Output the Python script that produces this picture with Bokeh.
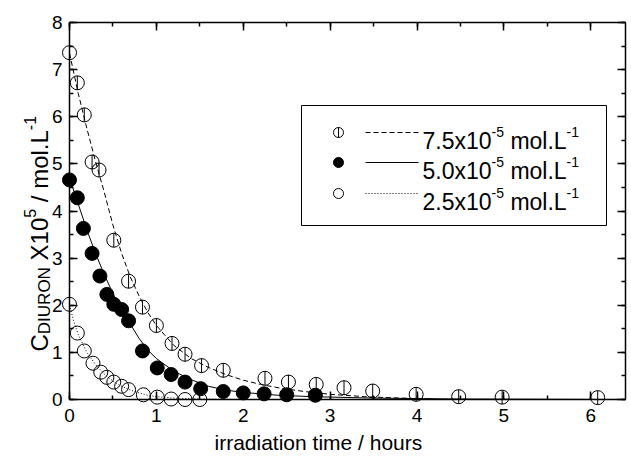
import math
from bokeh.plotting import figure
from bokeh.models import Range1d, LinearAxis, SingleIntervalTicker, Label
from bokeh.embed import file_html
from bokeh.resources import INLINE

# ---------------- data ----------------
t75 = [0.0, 0.09, 0.17, 0.26, 0.34, 0.51, 0.68, 0.84, 1.0, 1.18, 1.33, 1.52,
       1.77, 2.25, 2.52, 2.84, 3.16, 3.49, 3.99, 4.48, 4.98, 6.08]
c75 = [7.36, 6.72, 6.04, 5.04, 4.87, 3.38, 2.51, 1.96, 1.57, 1.19, 0.96, 0.72,
       0.62, 0.45, 0.37, 0.32, 0.25, 0.18, 0.11, 0.06, 0.05, 0.04]

t50 = [0.0, 0.09, 0.16, 0.26, 0.35, 0.43, 0.51, 0.60, 0.68, 0.84, 1.01, 1.17,
       1.33, 1.51, 1.77, 2.00, 2.24, 2.50, 2.83]
c50 = [4.66, 4.28, 3.63, 3.10, 2.62, 2.23, 2.02, 1.91, 1.67, 1.03, 0.67, 0.53,
       0.37, 0.23, 0.17, 0.14, 0.12, 0.10, 0.09]

t25 = [0.0, 0.09, 0.17, 0.27, 0.36, 0.43, 0.51, 0.60, 0.68, 0.85, 1.01, 1.17,
       1.33, 1.50]
c25 = [2.02, 1.41, 1.03, 0.77, 0.58, 0.47, 0.37, 0.28, 0.21, 0.10, 0.05, 0.01,
       0.0, 0.0]

# fitted curves
tfit75 = [0, 0.1, 0.2, 0.3, 0.4, 0.5, 0.6, 0.7, 0.8, 0.9, 1.0, 1.2, 1.4, 1.6,
          1.8, 2.0, 2.2, 2.4, 2.7, 3.0, 3.4, 3.8, 4.2]
cfit75 = [7.35, 6.5, 5.75, 5.05, 4.4, 3.7, 3.1, 2.6, 2.2, 1.85, 1.57, 1.15,
          0.87, 0.68, 0.53, 0.41, 0.32, 0.25, 0.17, 0.11, 0.06, 0.03, 0.01]

tfit50 = [0, 0.1, 0.2, 0.3, 0.4, 0.5, 0.6, 0.7, 0.8, 0.9, 1.0, 1.2, 1.4, 1.6,
          1.8, 2.0, 2.4, 2.8, 3.5, 4.5, 6.4]
cfit50 = [4.7, 4.15, 3.6, 3.1, 2.65, 2.25, 1.9, 1.6, 1.3, 1.05, 0.87, 0.6,
          0.42, 0.28, 0.2, 0.15, 0.09, 0.06, 0.03, 0.01, 0.0]

tfit25 = [0, 0.05, 0.1, 0.2, 0.3, 0.4, 0.5, 0.6, 0.7, 0.8, 0.9, 1.0, 1.2, 1.5, 2.0]
cfit25 = [2.0, 1.65, 1.38, 1.0, 0.74, 0.54, 0.39, 0.28, 0.2, 0.14, 0.09, 0.06,
          0.03, 0.01, 0.0]

legend_labels = [("7.5x10", "-5", "mol.L", "-1"),
                 ("5.0x10", "-5", "mol.L", "-1"),
                 ("2.5x10", "-5", "mol.L", "-1")]
x_title = "irradiation time / hours"
y_title = [("C", "main", 0), ("DIURON", "sub", 0), ("X10", "main", 1),
           ("5", "sup", 0), ("/", "main", 1), ("mol.L", "main", 1),
           ("-1", "sup", 0)]   # (text, style, spaces before)

X_MAX, Y_MAX = 6.4, 8.0

# ---------------- layout helpers ----------------
FONT = "Liberation Sans"
CW, CH = 631, 457
X0, X1, YT, YB = 69, 625, 22, 399     # pixel positions of the axes box
SX = (X1 - X0) / X_MAX
SY = (YB - YT) / Y_MAX


def fx(px):
    return (px - X0) / SX


def fy(py):
    return (YB - py) / SY


W = {'0': 556, '1': 556, '2': 556, '3': 556, '4': 556, '5': 556, '6': 556,
     '7': 556, '8': 556, '9': 556, '.': 278, 'x': 500, ' ': 278, 'm': 833,
     'o': 556, 'l': 222, 'L': 556, '-': 333, 'C': 722, 'D': 722, 'I': 278,
     'U': 722, 'R': 722, 'O': 778, 'N': 722, 'X': 667, '/': 278}


def tw(s, size):
    return sum(W.get(c, 556) for c in s) / 1000.0 * size


p = figure(width=CW, height=CH, min_border=0,
           x_range=Range1d(fx(0), fx(CW)), y_range=Range1d(fy(CH), fy(0)),
           x_axis_location=None, y_axis_location=None,
           output_backend="svg", toolbar_location=None,
           background_fill_color="white", border_fill_color="white")
p.grid.visible = False
p.outline_line_color = None


def make_axis(loc, bounds, labels):
    ax = LinearAxis(fixed_location=loc, bounds=bounds)
    ax.ticker = SingleIntervalTicker(interval=1, num_minor_ticks=2)
    ax.axis_line_width = 1.5
    ax.axis_line_color = "black"
    ax.major_tick_line_width = 1.5
    ax.minor_tick_line_width = 1.5
    ax.major_tick_line_color = "black"
    ax.minor_tick_line_color = "black"
    ax.major_tick_in = 8
    ax.major_tick_out = 0
    ax.minor_tick_in = 4
    ax.minor_tick_out = 0
    ax.major_label_text_font = FONT
    ax.major_label_text_font_size = "19px"
    if labels:
        ax.major_label_text_color = "black"
    else:
        ax.major_label_text_color = None
    return ax


bottom = make_axis(0, (0, X_MAX), True)
bottom.major_label_standoff = 9
left = make_axis(0, (0, Y_MAX), True)
left.major_label_standoff = 7
top = make_axis(Y_MAX, (0, X_MAX), False)
right = make_axis(X_MAX, (0, Y_MAX), False)
p.add_layout(bottom, "below")
p.add_layout(left, "left")
p.add_layout(top, "above")
p.add_layout(right, "right")

# fit curves
p.line(tfit75, cfit75, line_color="black", line_width=1, line_dash="5 3")
p.line(tfit50, cfit50, line_color="black", line_width=1)
p.line(tfit25, cfit25, line_color="black", line_width=1, line_dash="1 2")

MS = 14
p.scatter(t75, c75, marker="circle", size=MS, fill_color=None,
          line_color="black", line_width=1)
p.scatter(t75, c75, marker="dash", angle=math.pi / 2, size=MS,
          line_color="black", line_width=1)
p.scatter(t50, c50, marker="circle", size=MS, fill_color="black",
          line_color="black", line_width=1)
p.scatter(t25, c25, marker="circle", size=MS, fill_color=None,
          line_color="black", line_width=1)

# legend box
p.quad(left=[fx(301)], right=[fx(606)], top=[fy(105)], bottom=[fy(225)],
       fill_color="white", line_color="black", line_width=1)
rows = [132, 162, 193]
LMS = 10
p.scatter([fx(338)], [fy(rows[0])], marker="circle", size=LMS,
          fill_color=None, line_color="black")
p.scatter([fx(338)], [fy(rows[0])], marker="dash", angle=math.pi / 2,
          size=LMS, line_color="black")
p.scatter([fx(338)], [fy(rows[1])], marker="circle", size=LMS,
          fill_color="black", line_color="black")
p.scatter([fx(338)], [fy(rows[2])], marker="circle", size=LMS,
          fill_color=None, line_color="black")
dashes = ["5 3", None, "1 2"]
for r, d in zip(rows, dashes):
    kw = dict(line_color="black", line_width=1)
    if d:
        kw["line_dash"] = d
    p.line([fx(365), fx(418)], [fy(r), fy(r)], **kw)

MAIN, SUPS = 23, 14
for r, (a, b, c, d) in zip(rows, legend_labels):
    x = 422
    base = r + 8
    for s, size, rise, gap in [(a, MAIN, 0, 0), (b, SUPS, 9, 0),
                               (c, MAIN, 0, 1), (d, SUPS, 9, 0)]:
        x += gap * tw(" ", MAIN)
        p.add_layout(Label(x=fx(x), y=fy(base - rise), text=s,
                           text_font=FONT, text_font_size=f"{size}px",
                           text_align="left", text_baseline="alphabetic",
                           text_color="black"))
        x += tw(s, size)

# x axis title
p.add_layout(Label(x=fx(214), y=fy(442), text=x_title, text_font=FONT,
                   text_font_size="21px", text_align="left",
                   text_baseline="alphabetic", text_color="black"))

# y axis title (rotated, composed of pieces)
sizes = {"main": 24, "sub": 17, "sup": 16}
shift = {"main": 0, "sub": 5, "sup": -10}
ycur = 351
BASE_X = 39
for s, kind, gap in y_title:
    size = sizes[kind]
    ycur -= gap * tw(" ", sizes["main"])
    p.add_layout(Label(x=fx(BASE_X + shift[kind]), y=fy(ycur), text=s,
                       text_font=FONT, text_font_size=f"{size}px",
                       text_align="left", text_baseline="alphabetic",
                       angle=math.pi / 2, text_color="black"))
    ycur -= tw(s, size)

open("out.html", "w").write(file_html(p, INLINE))
